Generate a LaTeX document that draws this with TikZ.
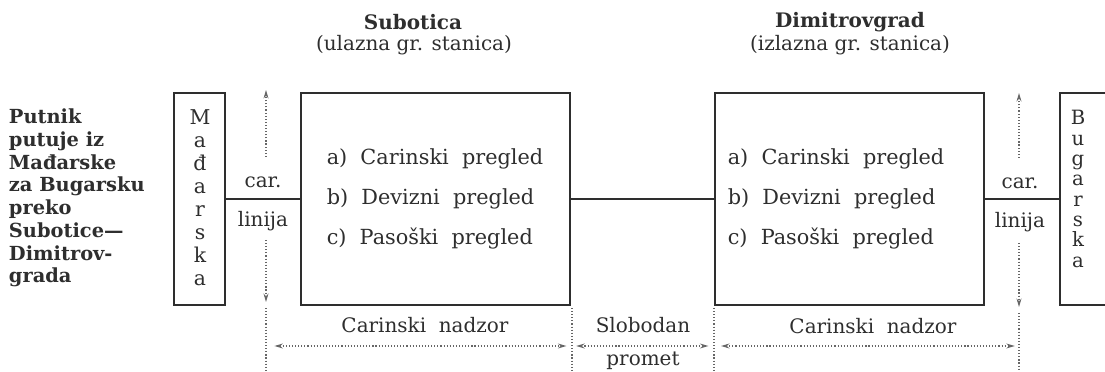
\documentclass[tikz,border=0pt]{standalone}
\usepackage{fontspec}
\setmainfont{DejaVu Serif}
\usetikzlibrary{arrows.meta}
\definecolor{ink}{gray}{0.18}
\definecolor{dotgray}{gray}{0.4}
\tikzset{
  wall/.style={draw=ink, line width=2pt, minimum height=5.3cm, inner sep=0pt},
  letters/.style={ink, align=center, inner sep=0pt},
  txt/.style={ink, font=\fontsize{14.2}{16}\selectfont},
  dotline/.style={dotgray, line width=0.8pt, dash pattern=on 0.8pt off 1.4pt},
}
\begin{document}
\begin{tikzpicture}[x=0.025cm, y=-0.025cm, >={Stealth[length=6pt,width=3.5pt]}]
\clip (0,0) rectangle (1105,372);
% headings
\node[txt, font=\fontsize{14.2}{16}\selectfont\bfseries] (SH) at (413,22) {Subotica};
\node[txt] (SS) at (414,45) {(ulazna gr. stanica)};
\node[txt, font=\fontsize{14.2}{16}\selectfont\bfseries] (DH) at (850,22) {Dimitrovgrad};
\node[txt] (DS) at (850,45) {(izlazna gr. stanica)};

% left text
\node[ink, anchor=west, align=left, font=\fontsize{13.8}{16.2}\selectfont\bfseries] (P) at (4,198)
  {Putnik\\putuje iz\\Mađarske\\za Bugarsku\\preko\\Subotice---\\Dimitrov-\\grada};

% boxes
\node[wall, minimum width=1.275cm] (M) at (199.5,199) {};
\node[wall, minimum width=6.725cm] (S) at (435.5,199) {};
\node[wall, minimum width=6.725cm] (D) at (849.5,199) {};
\node[wall, minimum width=2.25cm] (B) at (1105,199) {};

\node[letters, font=\fontsize{14.5}{16.35}\selectfont] (ML) at (200,198) {M\\a\\đ\\a\\r\\s\\k\\a};
\node[letters, font=\fontsize{14}{14.45}\selectfont] (BL) at (1078,189) {B\\u\\g\\a\\r\\s\\k\\a};

\node[txt, align=left, font=\fontsize{14.8}{28.4}\selectfont] (SL) at (435,199)
  {a)~~Carinski~~pregled\\b)~~Devizni~~pregled\\c)~~Pasoški~~pregled};
\node[txt, align=left, font=\fontsize{14.8}{28.4}\selectfont] (DL) at (836,199)
  {a)~~Carinski~~pregled\\b)~~Devizni~~pregled\\c)~~Pasoški~~pregled};

% car. linija
\draw[ink, line width=2pt] (M) -- (S);
\draw[ink, line width=2pt] (S) -- (D);
\draw[ink, line width=2pt] (D) -- (B);
\node[txt] (C1) at (263,182) {car.};
\node[txt] (L1) at (263,221) {linija};
\node[txt] (C2) at (1020,183) {car.};
\node[txt] (L2) at (1020,222) {linija};

% boundaries
\coordinate (u1) at (266,90);
\coordinate (d1) at (266,302);
\coordinate (u2) at (1019,93);
\coordinate (d2) at (1019,307);
\draw[dotline, ->] (266,157) -- (u1);
\draw[dotline, ->] (266,240) -- (d1);
\draw[dotline, ->] (1019,158) -- (u2);
\draw[dotline, ->] (1019,243) -- (d2);
\coordinate (b1) at (266,346);
\coordinate (b2) at (572,346);
\coordinate (b3) at (714,346);
\coordinate (b4) at (1019,346);
\draw[dotline] (266,308) -- (266,372);
\draw[dotline] (572,308) -- (572,372);
\draw[dotline] (714,308) -- (714,372);
\draw[dotline] (1019,313) -- (1019,372);

\draw[dotline, <->, shorten <=6pt, shorten >=4pt] (b1) -- (b2);
\draw[dotline, <->, shorten <=3pt, shorten >=4pt] (b2) -- (b3);
\draw[dotline, <->, shorten <=5pt, shorten >=3pt] (b3) -- (b4);
\node[txt] (N1) at (425,325) {Carinski~~nadzor};
\node[txt] (SP) at (643,325) {Slobodan};
\node[txt] (PR) at (643,361) {promet};
\node[txt] (N2) at (873,326) {Carinski~~nadzor};
\end{tikzpicture}
\end{document}
